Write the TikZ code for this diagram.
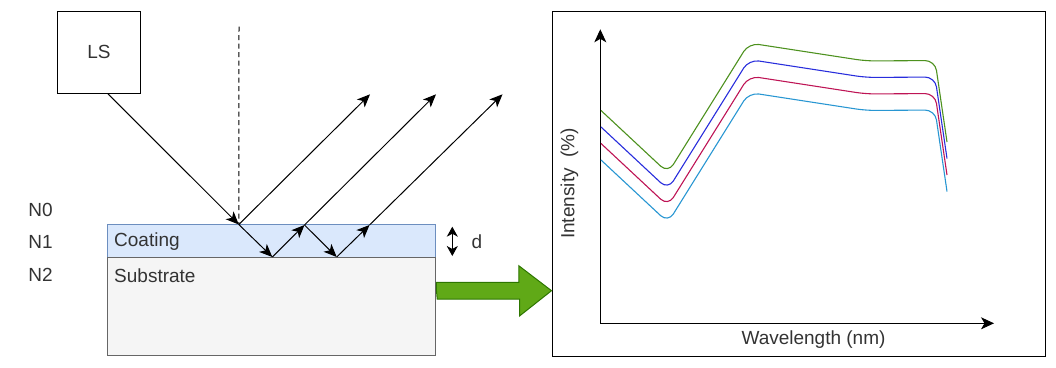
\documentclass[tikz,border=0pt]{standalone}
\usepackage{fontspec}
\setmainfont{Liberation Sans}
\usepackage{xcolor}
\usepackage{tikz}
\usetikzlibrary{positioning, arrows.meta, calc}
\definecolor{labelgray}{HTML}{333333}
\definecolor{coatfill}{HTML}{DAE8FC}
\definecolor{coatline}{HTML}{6C8EBF}
\definecolor{subfill}{HTML}{F5F5F5}
\definecolor{subline}{HTML}{666666}
\definecolor{arrowfill}{HTML}{60A917}
\definecolor{arrowline}{HTML}{2D7600}
\definecolor{curvegreen}{RGB}{77,145,30}
\definecolor{curveblue}{RGB}{40,45,220}
\definecolor{curvered}{RGB}{190,20,85}
\definecolor{curvecyan}{RGB}{40,150,210}
\tikzset{
  ray/.style={line width=1pt, -{Stealth[length=13pt, width=11pt, inset=3.5pt]}},
  dimarrow/.style={line width=1pt, {Stealth[length=10pt, width=11pt, inset=3pt]}-{Stealth[length=10pt, width=11pt, inset=3pt]}},
  axis/.style={line width=1pt, -{Stealth[length=13pt, width=12pt, inset=3.5pt]}},
  lbl/.style={text=labelgray, inner sep=0pt},
  curve/.style={line width=1.1pt, rounded corners=10pt}
}

\begin{document}
\begin{tikzpicture}[font=\fontsize{19}{22}\selectfont]
\begin{scope}[x=1pt,y=-1pt]
\useasboundingbox (0,0) rectangle (1056,367);
\node[draw, line width=1pt, minimum width=82.6pt, minimum height=82.3pt, lbl] (ls) at (99,52.3) {LS};
\node[draw=coatline, fill=coatfill, line width=1pt, minimum width=328.7pt, minimum height=32.3pt] (coat) at (271.6,241.1) {};
\node[draw=subline, fill=subfill, line width=1pt, minimum width=328.7pt, minimum height=98.7pt] (sub) at (271.6,306.6) {};
\node[lbl, anchor=west] (coattext) at (114,241.5) {Coating};
\node[lbl, anchor=west] (subtext) at (114,275.5) {Substrate};
\node[lbl] (n0) at (40.5,209.5) {N0};
\node[lbl] (n1) at (40.5,242.3) {N1};
\node[lbl] (n2) at (40.5,275.2) {N2};
\coordinate (nt) at (239,26.7);
\coordinate (h1) at (238.8,224.5);
\coordinate (b1) at (272.3,257);
\coordinate (h2) at (304.5,225);
\coordinate (b2) at (336.7,257);
\coordinate (h3) at (369.5,225);
\coordinate (t1) at (370,94.3);
\coordinate (t2) at (436,94.3);
\coordinate (t3) at (502.5,94.3);
\draw[dash pattern=on 5pt off 3.5pt, line width=1pt] (nt) -- (h1);
\draw[ray] ([xshift=9pt]ls.south) -- (h1);
\draw[ray] (h1) -- (t1);
\draw[ray] (h1) -- (b1);
\draw[ray] (b1) -- (h2);
\draw[ray] (h2) -- (t2);
\draw[ray] (h2) -- (b2);
\draw[ray] (b2) -- (h3);
\draw[ray] (h3) -- (t3);
\coordinate (dt) at (452.3,226.7);
\coordinate (db) at (452.3,256);
\draw[dimarrow] (dt) -- (db);
\node[lbl] (dlabel) at (477,242) {d};
\node[draw, line width=1pt, minimum width=493pt, minimum height=345.7pt] (frame) at (798.5,183.9) {};
\coordinate (ga) at (sub.east |- 0,290.7);
\coordinate (gb) at (frame.west |- ga);
\filldraw[fill=arrowfill, draw=arrowline, line width=1pt] (ga) -- ++(0,-8.4) -- ++(82.3,0) -- ++(0,-16.6) -- (gb) -- ++(-32,25.3) -- ++(0,-17) -- ++(-82.3,0) -- cycle;
\coordinate (o) at (600.3,323.3);
\coordinate (ya) at (600.3,29.3);
\coordinate (xa) at (994,323.3);
\draw[axis] (o) -- (ya);
\draw[axis] (o) -- (xa);
\node[lbl] (xlabel) at (813.5,340) {Wavelength (nm)};
\node[lbl, rotate=90] (ylabel) at (569.5,183.5) {Intensity~~(\%)};
\foreach \col/\off in {curvegreen/0, curveblue/16.5, curvered/33, curvecyan/49.5}
  \draw[curve, \col] (601,110.5+\off) -- (668,173+\off) -- (749,43+\off) -- (866,61+\off) -- (935,60.5+\off) -- (947,142+\off);
\end{scope}
\end{tikzpicture}
\end{document}
